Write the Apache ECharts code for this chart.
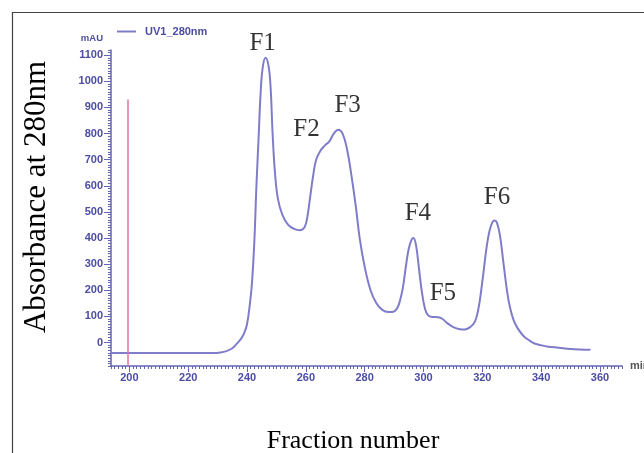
<!DOCTYPE html>
<html>
<head>
<meta charset="utf-8">
<script src="https://cdn.jsdelivr.net/npm/echarts@6/dist/echarts.min.js"></script>
<style>html,body{margin:0;padding:0;background:#fff}#c{width:644px;height:453px}</style>
</head>
<body>
<div id="c"></div>
<script>
// ---- data ----
const seriesName = 'UV1_280nm';
const curveX = [193.75,200,210,220,228,231,233,235,236.5,238,239,240,241,241.7,242.5,243.2,244,244.6,245.3,246.3,247.3,248,248.7,249.5,250.5,252,254,256,258,259.5,260.5,261.5,262.5,263.5,265,266.5,268,269.5,271,272.5,274,275.5,277,278.3,280,282,284,286,288,289.5,291,292,293,294,295,296,296.6,297.5,298.5,299.5,300.5,301.5,303,305,306.5,308,310,312,314,316,317.5,318.5,319.2,320.2,321.5,322.5,323.5,324.2,325,326,327.2,328.5,329.5,330.6,332,334,336,338,342,346,350,356.8];
const curveY = [-40,-40,-40,-40,-40,-38,-33,-22,-5,15,35,70,150,230,390,600,800,950,1050,1090,1060,980,800,650,550,490,450,435,430,440,480,560,640,700,735,755,770,800,815,800,740,640,520,400,290,200,150,125,117,117,130,160,210,290,360,395,400,370,280,190,130,105,98,97,90,75,60,52,50,60,80,120,164,250,368,430,462,467,458,410,304,190,130,87,55,25,8,-5,-15,-20,-25,-28];
const peakNames = ['F1','F2','F3','F4','F5','F6'];
const peakLabelX = [245.3,260.2,274.2,298.1,306.6,325.0];
const peakLabelY = [1147,814,909,496,186,556];
const yTickValues = [0,100,200,300,400,500,600,700,800,900,1000,1100];
const xTickValues = [200,220,240,260,280,300,320,340,360];
const markerX = 199.5;
const markerTop = 930;
const xMin = 193.75, xMax = 367.5;
const yMin = -90, yMax = 1120;
// ---- chart ----
const axisColor = '#6464b4';
const labelColor = '#4c4ca2';
const chart = echarts.init(document.getElementById('c'), null, {renderer:'canvas'});
const pts = curveX.map((x,i)=>[x,curveY[i]]);
const peakPts = peakNames.map((n,i)=>({name:n,value:[peakLabelX[i],peakLabelY[i]]}));
const option = {
  animation:false,
  backgroundColor:'#ffffff',
  grid:{left:111,right:22,top:50,bottom:87,containLabel:false,outerBoundsMode:'none'},
  legend:{
    left:112, top:21, itemWidth:19, itemHeight:2, icon:'rect',
    data:[seriesName],
    textStyle:{color:labelColor,fontFamily:'Liberation Sans',fontSize:11,fontWeight:'bold',padding:[0,0,0,4]}
  },
  xAxis:[
    {type:'value',min:xMin,max:xMax,position:'bottom',
     name:'min',nameLocation:'end',nameGap:8,
     nameTextStyle:{color:'#555',fontFamily:'Liberation Sans',fontSize:11,fontWeight:'bold',verticalAlign:'middle',padding:[6,0,0,0]},
     axisLine:{show:true,onZero:false,lineStyle:{color:axisColor,width:1.5}},
     axisTick:{show:true,customValues:xTickValues,length:6,inside:false,lineStyle:{color:axisColor}},
     axisLabel:{show:true,customValues:xTickValues,formatter:v=>String(v),color:labelColor,fontFamily:'Liberation Sans',fontSize:11,fontWeight:'bold',margin:6},
     splitLine:{show:false}},
    {type:'value',min:xMin,max:xMax,interval:1.25,position:'bottom',
     axisLine:{show:false,onZero:false},
     axisTick:{show:true,length:3,lineStyle:{color:axisColor}},
     axisLabel:{show:false},splitLine:{show:false}}
  ],
  yAxis:[
    {type:'value',min:yMin,max:yMax,position:'left',
     name:'mAU',nameLocation:'end',nameGap:7,
     nameTextStyle:{color:labelColor,fontFamily:'Liberation Sans',fontSize:9.5,fontWeight:'bold',align:'right',padding:[0,8,0,0]},
     axisLine:{show:true,onZero:false,lineStyle:{color:axisColor,width:1.5}},
     axisTick:{show:true,customValues:yTickValues,length:7,lineStyle:{color:axisColor}},
     axisLabel:{show:true,customValues:yTickValues,formatter:v=>String(v),color:labelColor,fontFamily:'Liberation Sans',fontSize:11,fontWeight:'bold',margin:8},
     splitLine:{show:false}},
    {type:'value',min:yMin,max:yMax,interval:10,position:'left',
     axisLine:{show:false,onZero:false},
     axisTick:{show:true,length:3,lineStyle:{color:axisColor}},
     axisLabel:{show:false},splitLine:{show:false}}
  ],
  series:[{
    name:seriesName,type:'line',xAxisIndex:0,yAxisIndex:0,
    data:pts,smooth:0.4,showSymbol:false,symbol:'none',
    lineStyle:{color:'#7f7dca',width:2},
    itemStyle:{color:'#7f7dca'},
    markLine:{
      silent:true,symbol:['none','none'],
      lineStyle:{color:'#e070a5',width:1.5,type:'solid'},
      label:{show:false},
      data:[[{coord:[markerX,markerTop]},{coord:[markerX,yMin]}]]
    }
  },{
    name:'peaks',type:'scatter',xAxisIndex:0,yAxisIndex:0,clip:false,
    symbolSize:0,silent:true,data:peakPts,
    label:{show:true,position:'inside',color:'#000',fontFamily:'Liberation Serif',fontSize:25,formatter:p=>p.name}
  }],
  graphic:[
    {type:'rect',shape:{x:12.5,y:12.5,width:700,height:500},style:{fill:'none',stroke:'#444',lineWidth:1.2},silent:true},
    {type:'text',x:37,y:197,rotation:Math.PI/2,
     style:{text:'Absorbance at 280nm',fill:'#000',font:'31px "Liberation Serif"',align:'center',verticalAlign:'middle'}},
    {type:'text',x:353,y:441,
     style:{text:'Fraction number',fill:'#000',font:'26px "Liberation Serif"',align:'center',verticalAlign:'middle'}}
  ]
};
chart.setOption(option);
</script>
</body>
</html>
